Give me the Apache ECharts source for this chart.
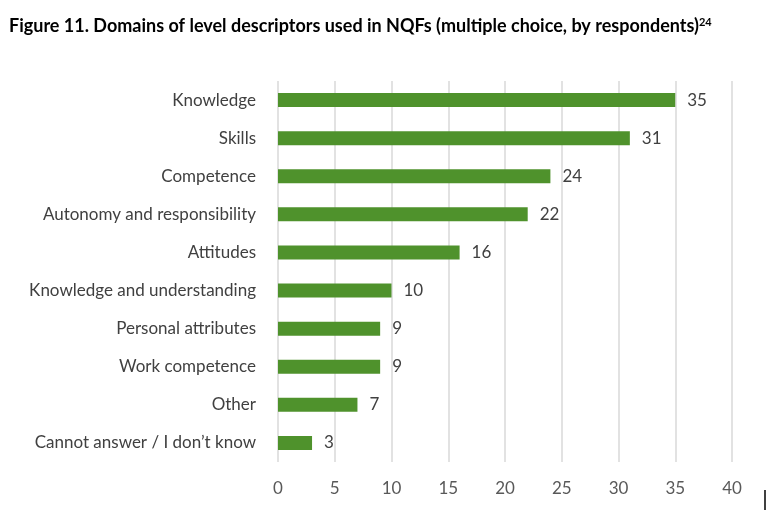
<!DOCTYPE html>
<html>
<head>
<meta charset="utf-8">
<script src="https://cdn.jsdelivr.net/npm/echarts@6/dist/echarts.min.js"></script>
<style>html,body{margin:0;padding:0;background:#fff}#c{width:768px;height:518px}</style>
</head>
<body>
<div id="c"></div>
<script>
const categories = ["Knowledge","Skills","Competence","Autonomy and responsibility","Attitudes","Knowledge and understanding","Personal attributes","Work competence","Other","Cannot answer / I don\u2019t know"];
const values = [35,31,24,22,16,10,9,9,7,3];
const xTicks = [0,5,10,15,20,25,30,35,40];

const chart = echarts.init(document.getElementById('c'));
chart.setOption({
  animation:false,
  backgroundColor:'#fff',
  title:{
    text:'{t|Figure 11. Domains of level descriptors used in NQFs (multiple choice, by respondents)}{s|24}',
    left:4, top:12,
    textStyle:{rich:{
      t:{fontFamily:'Lato',fontWeight:'bold',fontSize:18,color:'#000'},
      s:{fontFamily:'Lato',fontWeight:'bold',fontSize:11,color:'#000',verticalAlign:'top',padding:[0,0,8,0]}
    }}
  },
  grid:{left:278,right:36,top:81,bottom:56,containLabel:false},
  xAxis:{
    type:'value',min:xTicks[0],max:xTicks[xTicks.length-1],interval:5,
    axisLine:{show:false},axisTick:{show:false},
    splitLine:{show:true,lineStyle:{color:'#d9d9d9',width:1.5}},
    axisLabel:{color:'#595959',fontFamily:'Lato',fontSize:17,margin:18}
  },
  yAxis:{
    type:'category',data:categories,inverse:true,
    axisLine:{show:false},axisTick:{show:false},
    axisLabel:{color:'#404040',fontFamily:'Lato',fontSize:17,margin:22}
  },
  series:[{
    type:'bar',data:values,barWidth:14,
    itemStyle:{color:'#4f922c'},
    label:{show:true,position:'right',distance:12,color:'#404040',fontFamily:'Lato',fontSize:17}
  }],
  graphic:[{type:'line',shape:{x1:765,y1:490,x2:765,y2:510},style:{stroke:'#000',lineWidth:1.5}}]
});
</script>
</body>
</html>
